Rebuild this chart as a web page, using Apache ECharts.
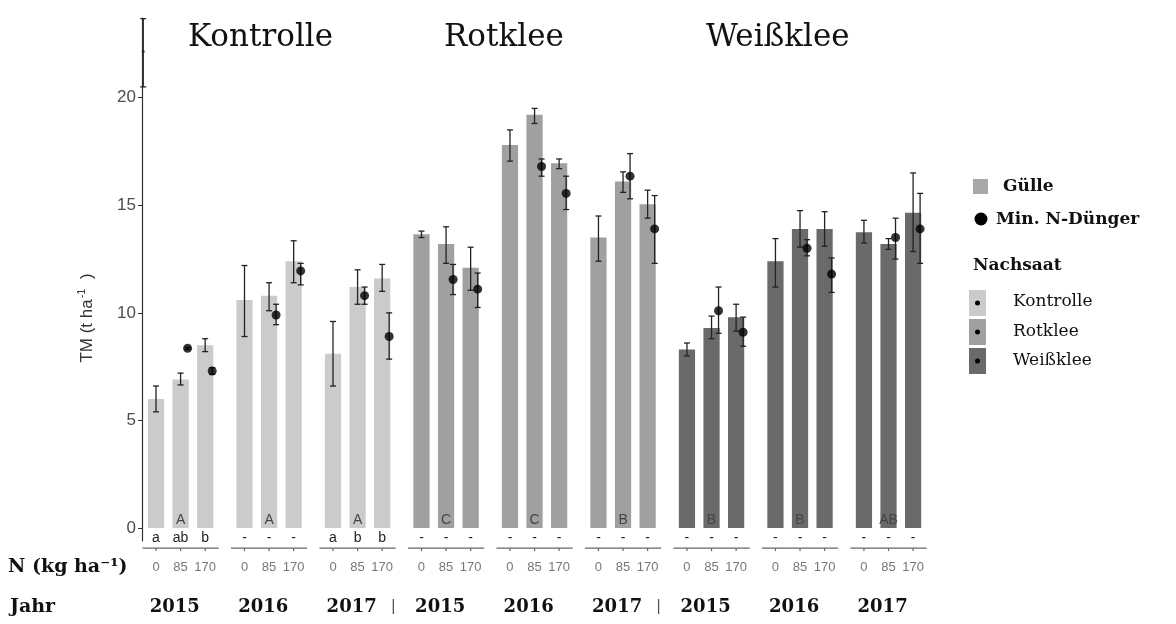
<!DOCTYPE html>
<html>
<head>
<meta charset="utf-8">
<script src="https://cdn.jsdelivr.net/npm/echarts@6/dist/echarts.min.js"></script>
<style>
html, body { margin: 0; padding: 0; background: #fff; }
#main { width: 1176px; height: 624px; }
</style>
</head>
<body>
<div id="main"></div>
<script>
// groups: Kontrolle 2015-2017, Rotklee 2015-2017, Weißklee 2015-2017
var facetTitles = ['Kontrolle', 'Rotklee', 'Weißklee'];
var groupYears = ['2015', '2016', '2017', '2015', '2016', '2017', '2015', '2016', '2017'];
var groupNachsaat = [0, 0, 0, 1, 1, 1, 2, 2, 2];
var groupLetters = ['A', 'A', 'A', 'C', 'C', 'B', 'B', 'B', 'AB'];
var nRates = ['0', '85', '170'];
var rateLetters = ['a', 'ab', 'b', '-', '-', '-', 'a', 'b', 'b',
  '-', '-', '-', '-', '-', '-', '-', '-', '-',
  '-', '-', '-', '-', '-', '-', '-', '-', '-'];
var yTicks = [0, 5, 10, 15, 20];

// Gülle (bars), one per N rate
var gulleMean = [6.0, 6.9, 8.5, 10.6, 10.8, 12.4, 8.1, 11.2, 11.6,
  13.65, 13.2, 12.1, 17.8, 19.2, 16.95, 13.5, 16.1, 15.05,
  8.3, 9.3, 9.8, 12.4, 13.9, 13.9, 13.75, 13.2, 14.65];
var gulleLow = [5.4, 6.65, 8.2, 8.9, 10.1, 11.4, 6.6, 10.4, 11.0,
  13.5, 12.3, 11.05, 17.05, 18.8, 16.7, 12.4, 15.6, 14.4,
  8.0, 8.8, 9.15, 11.2, 13.05, 13.1, 13.25, 12.95, 12.85];
var gulleHigh = [6.6, 7.2, 8.8, 12.2, 11.4, 13.35, 9.6, 12.0, 12.25,
  13.8, 14.0, 13.05, 18.5, 19.5, 17.15, 14.5, 16.55, 15.7,
  8.6, 9.85, 10.4, 13.45, 14.75, 14.7, 14.3, 13.45, 16.5];

// Min. N-Dünger (points), none at 0 N
var mineralMean = [null, 8.35, 7.3, null, 9.9, 11.95, null, 10.8, 8.9,
  null, 11.55, 11.1, null, 16.8, 15.55, null, 16.35, 13.9,
  null, 10.1, 9.1, null, 13.0, 11.8, null, 13.5, 13.9];
var mineralLow = [null, 8.3, 7.15, null, 9.45, 11.3, null, 10.4, 7.85,
  null, 10.85, 10.25, null, 16.35, 14.8, null, 15.3, 12.3,
  null, 9.05, 8.45, null, 12.65, 10.95, null, 12.5, 12.3];
var mineralHigh = [null, 8.4, 7.45, null, 10.4, 12.3, null, 11.2, 10.0,
  null, 12.25, 11.85, null, 17.15, 16.35, null, 17.4, 15.45,
  null, 11.2, 9.8, null, 13.4, 12.55, null, 14.4, 15.55];

// stray error bar at top of the axis
var strayMean = [22.14];
var strayLow = [20.5];
var strayHigh = [23.67];

var nachsaatColors = ['#cbcbcb', '#a0a0a0', '#6a6a6a'];
var serif = '"DejaVu Serif", serif';
var sans = '"Liberation Sans", Arial, sans-serif';

function pos(i) {
  return 0.57 + Math.floor(i / 3) * 3.6 + (i % 3);
}
function groupCenter(g) {
  return pos(g * 3 + 1);
}

function renderBar(params, api) {
  var x = api.value(0);
  var p0 = api.coord([x - 0.33, api.value(1)]);
  var p1 = api.coord([x + 0.33, 0]);
  return {
    type: 'rect',
    shape: { x: p0[0], y: p0[1], width: p1[0] - p0[0], height: p1[1] - p0[1] },
    style: { fill: nachsaatColors[api.value(2)] }
  };
}

function renderErr(params, api) {
  var x = api.value(0);
  var lo = api.coord([x, api.value(1)]);
  var hi = api.coord([x, api.value(2)]);
  var cx = lo[0], cap = 3;
  var st = { stroke: '#222', lineWidth: 1.3 };
  return {
    type: 'group',
    children: [
      { type: 'line', shape: { x1: cx, y1: lo[1], x2: cx, y2: hi[1] }, style: st },
      { type: 'line', shape: { x1: cx - cap, y1: lo[1], x2: cx + cap, y2: lo[1] }, style: st },
      { type: 'line', shape: { x1: cx - cap, y1: hi[1], x2: cx + cap, y2: hi[1] }, style: st }
    ]
  };
}

function textSeries(xs, labels, dy, font, color) {
  return {
    type: 'custom', clip: false, silent: true, z: 6,
    data: xs.map(function (x, i) { return [x, i]; }),
    renderItem: function (params, api) {
      var p = api.coord([api.value(0), 0]);
      return {
        type: 'text',
        x: p[0], y: p[1] + dy,
        style: {
          text: labels[api.value(1)], font: font, fill: color,
          align: 'center', verticalAlign: 'middle',
          textAlign: 'center', textVerticalAlign: 'middle'
        }
      };
    }
  };
}

var barData = gulleMean.map(function (v, i) {
  return [pos(i), v, groupNachsaat[Math.floor(i / 3)]];
});
var gulleErr = gulleMean.map(function (v, i) {
  return [pos(i), gulleLow[i], gulleHigh[i]];
});
var dotData = [], dotErr = [];
for (var i = 0; i < mineralMean.length; i++) {
  if (mineralMean[i] == null) continue;
  dotData.push([pos(i) + 0.285, mineralMean[i]]);
  dotErr.push([pos(i) + 0.285, mineralLow[i], mineralHigh[i]]);
}

var barPos = gulleMean.map(function (v, i) { return pos(i); });
var centers = groupYears.map(function (y, g) { return groupCenter(g); });
var nLabels = barPos.map(function (x, i) { return nRates[i % 3]; });

var chart = echarts.init(document.getElementById('main'));

var option = {
  animation: false,
  grid: { left: 142, top: 18, width: 791.5, height: 523 },
  xAxis: { type: 'value', min: 0, max: 32.2, show: false },
  yAxis: {
    type: 'value', min: -0.6, max: 23.7,
    splitLine: { show: false },
    axisLine: { show: true, onZero: false, lineStyle: { color: '#333', width: 1.2 } },
    axisTick: { show: true, length: 4, customValues: yTicks, lineStyle: { color: '#333' } },
    axisLabel: { customValues: yTicks, color: '#4d4d4d', fontSize: 17, fontFamily: sans, margin: 6 }
  },
  series: [
    { type: 'custom', clip: false, z: 1, silent: true, data: barData, renderItem: renderBar },
    { type: 'custom', clip: false, z: 3, silent: true, data: gulleErr, renderItem: renderErr },
    { type: 'custom', clip: false, z: 3, silent: true, data: dotErr, renderItem: renderErr },
    {
      type: 'scatter', z: 4, silent: true, data: dotData,
      symbolSize: 9, itemStyle: { color: '#000' }
    },
    {
      type: 'custom', clip: false, z: 3, silent: true,
      data: strayMean.map(function (v, i) { return [0.05, strayLow[i], strayHigh[i]]; }),
      renderItem: renderErr
    },
    {
      type: 'scatter', z: 4, silent: true,
      data: strayMean.map(function (v) { return [0.05, v]; }),
      symbolSize: 3, itemStyle: { color: '#222' }
    },
    // N axis segments with ticks
    {
      type: 'custom', clip: false, silent: true, z: 5,
      data: centers.map(function (c, g) { return [c, g]; }),
      renderItem: function (params, api) {
        var c = api.value(0);
        var a = api.coord([c - 1.55, 0]);
        var b = api.coord([c + 1.55, 0]);
        var y = a[1] + 20;
        var st = { stroke: '#666', lineWidth: 1.2 };
        var kids = [{ type: 'line', shape: { x1: a[0], y1: y, x2: b[0], y2: y }, style: st }];
        for (var k = -1; k <= 1; k++) {
          var t = api.coord([c + k, 0]);
          kids.push({ type: 'line', shape: { x1: t[0], y1: y, x2: t[0], y2: y + 3 }, style: st });
        }
        return { type: 'group', children: kids };
      }
    },
    textSeries(centers, groupLetters, -8, '14px ' + sans, '#444'),
    textSeries(barPos, rateLetters, 10, '14px ' + sans, '#222'),
    textSeries(barPos, nLabels, 39, '13px ' + sans, '#777'),
    textSeries(centers.map(function (c) { return c - 0.24; }), groupYears, 79, 'bold 18px ' + serif, '#111'),
    textSeries([centers[2] + 1.45, centers[5] + 1.45], ['|', '|'], 79, '16px ' + sans, '#555')
  ],
  graphic: [
    { type: 'text', left: 188, top: 22, style: { text: facetTitles[0], font: '31px ' + serif, fill: '#111' } },
    { type: 'text', left: 444, top: 22, style: { text: facetTitles[1], font: '31px ' + serif, fill: '#111' } },
    { type: 'text', left: 706, top: 22, style: { text: facetTitles[2], font: '31px ' + serif, fill: '#111' } },
    {
      type: 'text', x: 86, y: 318, rotation: Math.PI / 2,
      style: {
        text: '{a|TM (t ha}{s|-1}{a|  )}',
        align: 'center', verticalAlign: 'middle',
        rich: {
          a: { font: '17px ' + sans, fill: '#333', verticalAlign: 'bottom' },
          s: { font: '11px ' + sans, fill: '#333', verticalAlign: 'top', padding: [0, 0, 8, 1] }
        }
      }
    },
    { type: 'text', x: 8, y: 567, style: { text: 'N (kg ha⁻¹)', font: 'bold 19px ' + serif, fill: '#111', verticalAlign: 'middle' } },
    { type: 'text', x: 10, y: 607, style: { text: 'Jahr', font: 'bold 19px ' + serif, fill: '#111', verticalAlign: 'middle' } },
    // legend
    { type: 'rect', shape: { x: 973, y: 179, width: 15, height: 15 }, style: { fill: '#a8a8a8' } },
    { type: 'text', x: 1003, y: 187, style: { text: 'Gülle', font: 'bold 17px ' + serif, fill: '#111', verticalAlign: 'middle' } },
    { type: 'circle', shape: { cx: 981, cy: 219, r: 6.5 }, style: { fill: '#000' } },
    { type: 'text', x: 996, y: 220, style: { text: 'Min. N-Dünger', font: 'bold 17px ' + serif, fill: '#111', verticalAlign: 'middle' } },
    { type: 'text', x: 973, y: 266, style: { text: 'Nachsaat', font: 'bold 17px ' + serif, fill: '#111', verticalAlign: 'middle' } },
    { type: 'rect', shape: { x: 969, y: 290, width: 17, height: 26 }, style: { fill: nachsaatColors[0] } },
    { type: 'rect', shape: { x: 969, y: 319, width: 17, height: 26 }, style: { fill: nachsaatColors[1] } },
    { type: 'rect', shape: { x: 969, y: 348, width: 17, height: 26 }, style: { fill: nachsaatColors[2] } },
    { type: 'circle', shape: { cx: 977.5, cy: 303, r: 2.5 }, style: { fill: '#000' } },
    { type: 'circle', shape: { cx: 977.5, cy: 332, r: 2.5 }, style: { fill: '#000' } },
    { type: 'circle', shape: { cx: 977.5, cy: 361, r: 2.5 }, style: { fill: '#000' } },
    { type: 'text', x: 1013, y: 302, style: { text: facetTitles[0], font: '17px ' + serif, fill: '#111', verticalAlign: 'middle' } },
    { type: 'text', x: 1013, y: 332, style: { text: facetTitles[1], font: '17px ' + serif, fill: '#111', verticalAlign: 'middle' } },
    { type: 'text', x: 1013, y: 361, style: { text: facetTitles[2], font: '17px ' + serif, fill: '#111', verticalAlign: 'middle' } }
  ]
};

chart.setOption(option);
</script>
</body>
</html>
